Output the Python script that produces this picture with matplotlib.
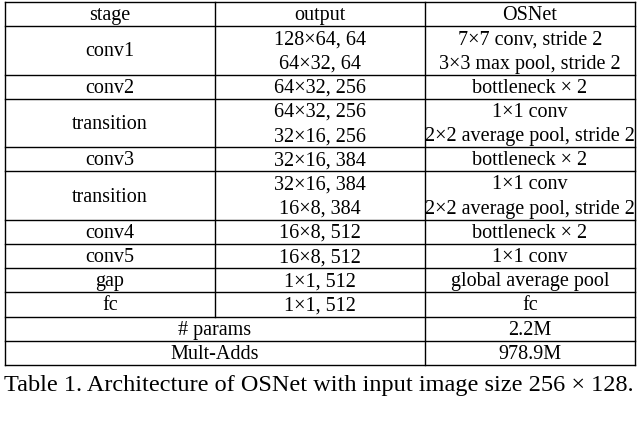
import matplotlib.pyplot as plt

plt.rcParams['font.family'] = ['Liberation Serif', 'DejaVu Serif']

header = ["stage", "output", "OSNet"]
stages = ["conv1", "conv2", "transition", "conv3", "transition", "conv4", "conv5", "gap", "fc"]
outputs = [["128×64, 64", "64×32, 64"], ["64×32, 256"], ["64×32, 256", "32×16, 256"],
           ["32×16, 384"], ["32×16, 384", "16×8, 384"], ["16×8, 512"], ["16×8, 512"],
           ["1×1, 512"], ["1×1, 512"]]
blocks = [["7×7 conv, stride 2", "3×3 max pool, stride 2"], ["bottleneck × 2"],
          ["1×1 conv", "2×2 average pool, stride 2"], ["bottleneck × 2"],
          ["1×1 conv", "2×2 average pool, stride 2"], ["bottleneck × 2"],
          ["1×1 conv"], ["global average pool"], ["fc"]]
summary = [["# params", "2.2M"], ["Mult-Adds", "978.9M"]]
caption = "Table 1. Architecture of OSNet with input image size 256 × 128."

fig = plt.figure(figsize=(6.4, 4.26), dpi=100)
ax = fig.add_axes([0, 0, 1, 1])
ax.set_xlim(0, 640)
ax.set_ylim(426, 0)
ax.axis('off')

fs = 14.5
xl, x1, x2, xr = 5, 215, 425, 635
cx = [110, 320, 530]
line_h = 24.2
lw = 1.0
dy = 1.5

y = 2
ax.plot([xl, xr], [y, y], color='black', lw=lw)
for i, h in enumerate(header):
    ax.text(cx[i], y + line_h / 2 + dy, h, ha='center', va='center', fontsize=fs)
y += line_h
ax.plot([xl, xr], [y, y], color='black', lw=lw)

for s, o, b in zip(stages, outputs, blocks):
    n = max(len(o), len(b))
    h = n * line_h
    ax.text(cx[0], y + h / 2 + dy, s, ha='center', va='center', fontsize=fs)
    for k, t in enumerate(o):
        ax.text(cx[1], y + (k + 0.5) * line_h + dy, t, ha='center', va='center', fontsize=fs)
    for k, t in enumerate(b):
        ax.text(cx[2], y + (k + 0.5) * line_h + dy, t, ha='center', va='center', fontsize=fs)
    y += h
    ax.plot([xl, xr], [y, y], color='black', lw=lw)
y_grid_end = y

for name, val in summary:
    ax.text((xl + x2) / 2, y + line_h / 2 + dy, name, ha='center', va='center', fontsize=fs)
    ax.text(cx[2], y + line_h / 2 + dy, val, ha='center', va='center', fontsize=fs)
    y += line_h
    ax.plot([xl, xr], [y, y], color='black', lw=lw)

for x in (xl, x2, xr):
    ax.plot([x, x], [2, y], color='black', lw=lw)
ax.plot([x1, x1], [2, y_grid_end], color='black', lw=lw)

ax.text(319, y + 21, caption, ha='center', va='center', fontsize=17.5)

fig.savefig("out.png", dpi=100)
